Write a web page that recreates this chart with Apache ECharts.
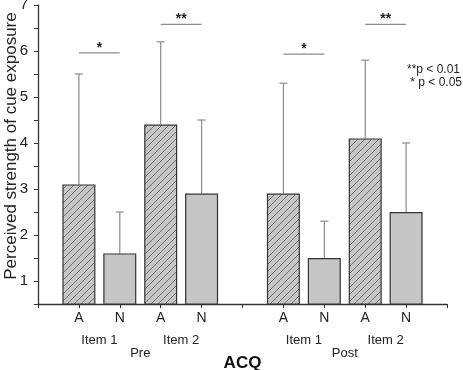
<!DOCTYPE html>
<html>
<head>
<meta charset="utf-8">
<script src="https://cdn.jsdelivr.net/npm/echarts@6/dist/echarts.min.js"></script>
<style>
html, body { margin: 0; padding: 0; background: #fff; }
#main { width: 463px; height: 370px; }
</style>
</head>
<body>
<div id="main"></div>
<script>
// category slots (empty slots at both ends and between Pre and Post)
var slots = ['', 'A', 'N', 'A', 'N', '', 'A', 'N', 'A', 'N', ''];
var means = [null, 3.1, 1.6, 4.4, 2.9, null, 2.9, 1.5, 4.1, 2.5, null];
var upper = [null, 5.5, 2.5, 6.2, 4.5, null, 5.3, 2.3, 5.8, 4.0, null];
var hatched = [false, true, false, true, false, false, true, false, true, false, false];
// significance brackets: [from slot, to slot, level, label]
var sigs = [[1, 2, 5.96, '*'], [3, 4, 6.58, '**'], [6, 7, 5.93, '*'], [8, 9, 6.58, '**']];
var items = [[1, 2, 'Item 1'], [3, 4, 'Item 2'], [6, 7, 'Item 1'], [8, 9, 'Item 2']];
var phases = [[1, 4, 'Pre'], [6, 9, 'Post']];
var yTicks = [1, 2, 3, 4, 5, 6, 7];

var font = 'Arial, "Liberation Sans", sans-serif';

// hatch pattern for the A bars
var hatch = document.createElement('canvas');
hatch.width = 7;
hatch.height = 7;
var ctx = hatch.getContext('2d');
ctx.fillStyle = '#c6c6c6';
ctx.fillRect(0, 0, 7, 7);
ctx.strokeStyle = '#6e6e6e';
ctx.lineWidth = 1;
ctx.beginPath();
ctx.moveTo(-1, 8); ctx.lineTo(8, -1);
ctx.moveTo(-1, 1); ctx.lineTo(1, -1);
ctx.moveTo(6, 8); ctx.lineTo(8, 6);
ctx.stroke();

var barData = means.map(function (v, i) {
	if (v == null) return null;
	return {
		value: v,
		itemStyle: {
			color: hatched[i] ? { image: hatch, repeat: 'repeat' } : '#c6c6c6'
		}
	};
});

var errData = [];
means.forEach(function (v, i) {
	if (v != null) errData.push([i, v, upper[i]]);
});

var chart = echarts.init(document.getElementById('main'), null, { renderer: 'canvas' });

var option = {
	animation: false,
	grid: { left: 38, right: 16, top: 5, bottom: 66, outerBoundsMode: 'none', containLabel: false },
	xAxis: {
		type: 'category',
		data: slots,
		boundaryGap: false,
		axisLine: { lineStyle: { color: '#333', width: 1.3 } },
		axisTick: { interval: 0, length: 4, lineStyle: { color: '#333' } },
		axisLabel: { interval: 0, color: '#222', fontSize: 14, fontFamily: font, margin: 7 }
	},
	yAxis: {
		type: 'value',
		min: 0.5,
		max: 7,
		interval: 0.5,
		name: 'Perceived strength of cue exposure',
		nameLocation: 'middle',
		nameGap: 18,
		nameMoveOverlap: false,
		nameTextStyle: { color: '#222', fontSize: 17, fontFamily: font, padding: [0, 0, 0, 17] },
		splitLine: { show: false },
		axisLine: { show: true, lineStyle: { color: '#333', width: 1.3 } },
		axisTick: { show: true, length: 4, lineStyle: { color: '#333' } },
		axisLabel: {
			color: '#222', fontSize: 15, fontFamily: font, margin: 10,
			formatter: function (v) { return yTicks.indexOf(v) >= 0 ? String(v) : ''; }
		}
	},
	series: [{
		type: 'bar',
		data: barData,
		barWidth: 33,
		itemStyle: { borderColor: '#333', borderWidth: 1.2 },
		z: 2
	}, {
		type: 'custom',
		data: errData,
		z: 1,
		renderItem: function (params, api) {
			var top = api.coord([api.value(0), api.value(2)]);
			var base = api.coord([api.value(0), api.value(1)]);
			var st = { stroke: '#8c8c8c', lineWidth: 1.2 };
			return {
				type: 'group',
				children: [
					{ type: 'line', shape: { x1: top[0], y1: top[1], x2: base[0], y2: base[1] }, style: st },
					{ type: 'line', shape: { x1: top[0] - 4, y1: top[1], x2: top[0] + 4, y2: top[1] }, style: st }
				]
			};
		}
	}, {
		type: 'custom',
		data: sigs,
		renderItem: function (params, api) {
			var a = api.coord([api.value(0), api.value(2)]);
			var b = api.coord([api.value(1), api.value(2)]);
			return {
				type: 'group',
				children: [
					{ type: 'line', shape: { x1: a[0], y1: a[1], x2: b[0], y2: b[1] }, style: { stroke: '#8c8c8c', lineWidth: 1.2 } },
					{ type: 'text', style: { x: (a[0] + b[0]) / 2, y: a[1] + 2, text: sigs[params.dataIndex][3], align: 'center', verticalAlign: 'bottom', fill: '#222', font: 'bold 14px ' + font } }
				]
			};
		}
	}]
};
chart.setOption(option);

// group labels under the axis, placed from the category positions
var g = [];
var yBase = chart.convertToPixel({ yAxisIndex: 0 }, 0.5);
items.forEach(function (it) {
	var x = (chart.convertToPixel({ xAxisIndex: 0 }, it[0]) + chart.convertToPixel({ xAxisIndex: 0 }, it[1])) / 2;
	g.push({ type: 'text', x: x, y: yBase + 36, style: { text: it[2], align: 'center', verticalAlign: 'middle', fill: '#222', font: '13px ' + font } });
});
phases.forEach(function (p) {
	var x = (chart.convertToPixel({ xAxisIndex: 0 }, p[0]) + chart.convertToPixel({ xAxisIndex: 0 }, p[1])) / 2;
	g.push({ type: 'text', x: x, y: yBase + 49, style: { text: p[2], align: 'center', verticalAlign: 'middle', fill: '#222', font: '13px ' + font } });
});
g.push({ type: 'text', x: chart.convertToPixel({ xAxisIndex: 0 }, 5), y: yBase + 59, style: { text: 'ACQ', align: 'center', verticalAlign: 'middle', fill: '#111', font: 'bold 17px ' + font } });
g.push({ type: 'text', right: 1, top: 63, style: { text: '**p < 0.01\n * p < 0.05', align: 'right', fill: '#222', font: '12px ' + font, lineHeight: 13 } });
chart.setOption({ graphic: g });
</script>
</body>
</html>
